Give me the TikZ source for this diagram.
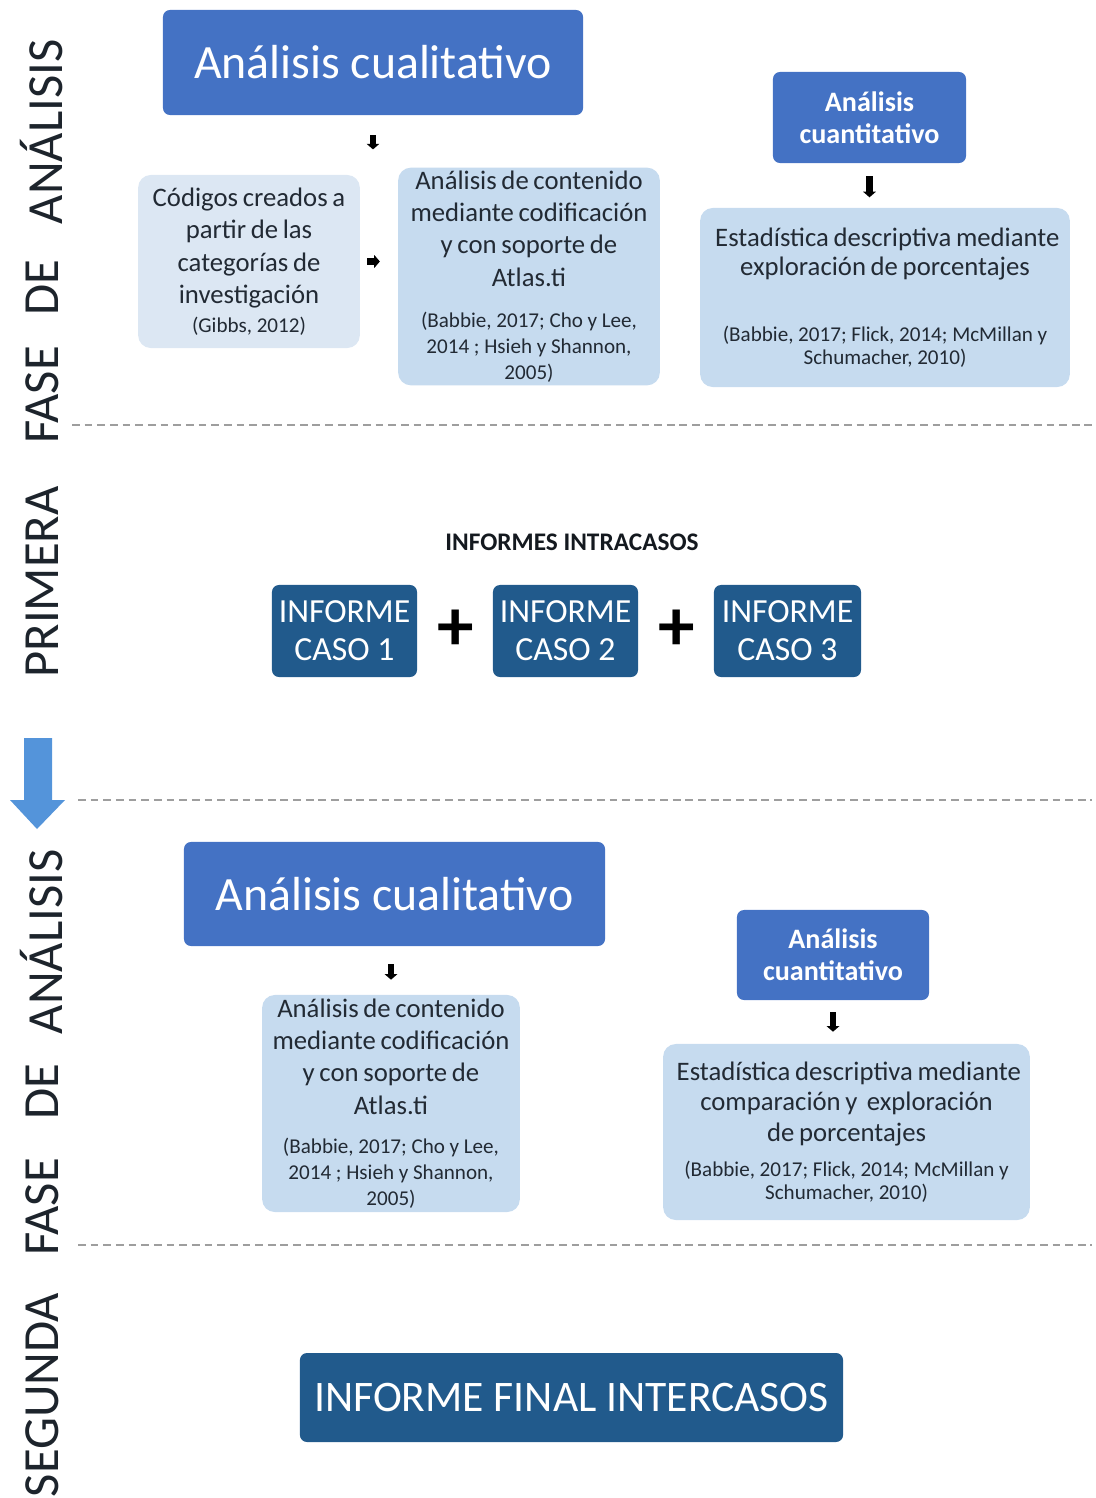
\documentclass[tikz,border=0pt]{standalone}
\usepackage{fontspec}
\setmainfont{Carlito}
\usepackage{tikz}
\usetikzlibrary{arrows.meta,positioning}
\definecolor{an-mid}{HTML}{4472C4}
\definecolor{an-dark}{HTML}{215A8C}
\definecolor{an-light}{HTML}{C6DBEF}
\definecolor{an-pale}{HTML}{DCE7F3}
\definecolor{an-arrow}{HTML}{5494DA}
\definecolor{an-text}{HTML}{222A34}
\definecolor{an-dash}{HTML}{9E9E9E}
\newcommand{\mainfs}[1][23]{\fontsize{19}{#1}\selectfont}
\newcommand{\citefs}[1][18.5]{\fontsize{15}{#1}\selectfont}

\begin{document}
\begin{tikzpicture}[x=0.025cm, y=-0.025cm,
  phase/.style={rotate=90, font=\fontsize{36}{36}\selectfont, text=an-text!85!black},
  midbox/.style={rectangle, rounded corners=5pt, fill=an-mid, text=white, align=center, inner sep=2pt},
  casebox/.style={rectangle, rounded corners=5pt, fill=an-dark, text=white, align=center, inner sep=2pt},
  lightbox/.style={rectangle, rounded corners=9pt, fill=an-light, text=an-text, align=center, inner sep=2pt},
  sep/.style={an-dash, line width=1.6pt, dash pattern=on 5.5pt off 3.5pt},
  tinyarrow/.style={black, line width=4.5pt, -{Triangle[length=4pt,width=9pt]}}]
\useasboundingbox (0,0) rectangle (1096,1498);

% phase labels on the left
\foreach \w/\y [count=\i] in {ANÁLISIS/132, DE/288, FASE/395, PRIMERA/582, ANÁLISIS/942, DE/1092, FASE/1207, SEGUNDA/1395}
  \node[phase] (ph\i) at (42,\y) {\w};

% separators
\draw[sep] (72,425) -- (1092,425);
\draw[sep] (78,800) -- (1092,800);
\draw[sep] (78,1245) -- (1092,1245);

% big arrow between phases
\fill[an-arrow] (24,738) -- (52,738) -- (52,800) -- (65,800) -- (37,829) -- (10,800) -- (24,800) -- cycle;

% first phase
\node[midbox, minimum width=10.5cm, minimum height=2.625cm, font=\fontsize{34}{40}\selectfont] (qualA) at (373,62.5) {Análisis cualitativo};
\node[lightbox, fill=an-pale, text width=5.4cm, minimum height=4.325cm] (codes) at (249,261.5)
  {\mainfs Códigos creados a\\partir de las\\categorías de\\investigación\par\vspace{2pt}\citefs (Gibbs, 2012)\par};
\node[lightbox, text width=6.4cm, minimum height=5.425cm] (contA) at (529,276.5)
  {\mainfs Análisis de contenido\\mediante codificación\\y con soporte de\\Atlas.ti\par\vspace{11pt}\citefs (Babbie, 2017; Cho y Lee,\\2014 ; Hsieh y Shannon,\\2005)\par};
\node[midbox, minimum width=4.825cm, minimum height=2.275cm, font=\bfseries\fontsize{20}{23}\selectfont] (quantA) at (869.5,117.5) {Análisis\\cuantitativo};
\node[lightbox, text width=9.1cm, minimum height=4.475cm] (statA) at (885,297.5)
  {\mainfs[21] Estadística descriptiva mediante\\exploración de porcentajes\par\vspace{31pt}\citefs[16] (Babbie, 2017; Flick, 2014; McMillan y\\Schumacher, 2010)\par};

\draw[tinyarrow, shorten <=0.5cm, shorten >=0.45cm] (qualA.south) -- (qualA.south |- contA.north);
\draw[tinyarrow, shorten <=0.18cm, shorten >=0.45cm] (codes.east) -- (codes.east -| contA.west);
\draw[tinyarrow, shorten <=0.33cm, shorten >=0.26cm] (quantA.south) -- (quantA.south |- statA.north);

% intra-case reports
\node[font=\bfseries\fontsize{18}{20}\selectfont, text=an-text!60!black] (intra) at (572,542) {INFORMES INTRACASOS};
\node[casebox, minimum width=3.625cm, minimum height=2.3cm, font=\fontsize{24}{27}\selectfont] (case1) at (344.5,631) {INFORME\\CASO 1};
\node[casebox, minimum width=3.625cm, minimum height=2.3cm, font=\fontsize{24}{27}\selectfont] (case2) at (565.5,631) {INFORME\\CASO 2};
\node[casebox, minimum width=3.675cm, minimum height=2.3cm, font=\fontsize{24}{27}\selectfont] (case3) at (787.5,631) {INFORME\\CASO 3};
\node[font=\bfseries\fontsize{52}{52}\selectfont] (plus1) at (456,630) {+};
\node[font=\bfseries\fontsize{52}{52}\selectfont] (plus2) at (677,630) {+};

% second phase
\node[midbox, minimum width=10.525cm, minimum height=2.6cm, font=\fontsize{34}{40}\selectfont] (qualB) at (394.5,894) {Análisis cualitativo};
\node[lightbox, text width=6.3cm, minimum height=5.425cm] (contB) at (391,1103.5)
  {\mainfs Análisis de contenido\\mediante codificación\\y con soporte de\\Atlas.ti\par\vspace{9.5pt}\citefs (Babbie, 2017; Cho y Lee,\\2014 ; Hsieh y Shannon,\\2005)\par};
\node[midbox, minimum width=4.8cm, minimum height=2.25cm, font=\bfseries\fontsize{20}{23}\selectfont] (quantB) at (833,955) {Análisis\\cuantitativo};
\node[lightbox, text width=9.025cm, minimum height=4.4cm] (statB) at (846.5,1132)
  {\mainfs[21.7] Estadística descriptiva mediante\\comparación y \ exploración\\de porcentajes\par\vspace{8.5pt}\citefs[16.4] (Babbie, 2017; Flick, 2014; McMillan y\\Schumacher, 2010)\par};

\draw[tinyarrow, shorten <=0.45cm, shorten >=0.375cm] (contB.north |- qualB.south) -- (contB.north);
\draw[tinyarrow, shorten <=0.3cm, shorten >=0.3cm] (quantB.south) -- (quantB.south |- statB.north);

% final report
\node[casebox, minimum width=13.575cm, minimum height=2.225cm, font=\fontsize{31}{36}\selectfont] (final) at (571.5,1397.5) {INFORME FINAL INTERCASOS};
\end{tikzpicture}
\end{document}
